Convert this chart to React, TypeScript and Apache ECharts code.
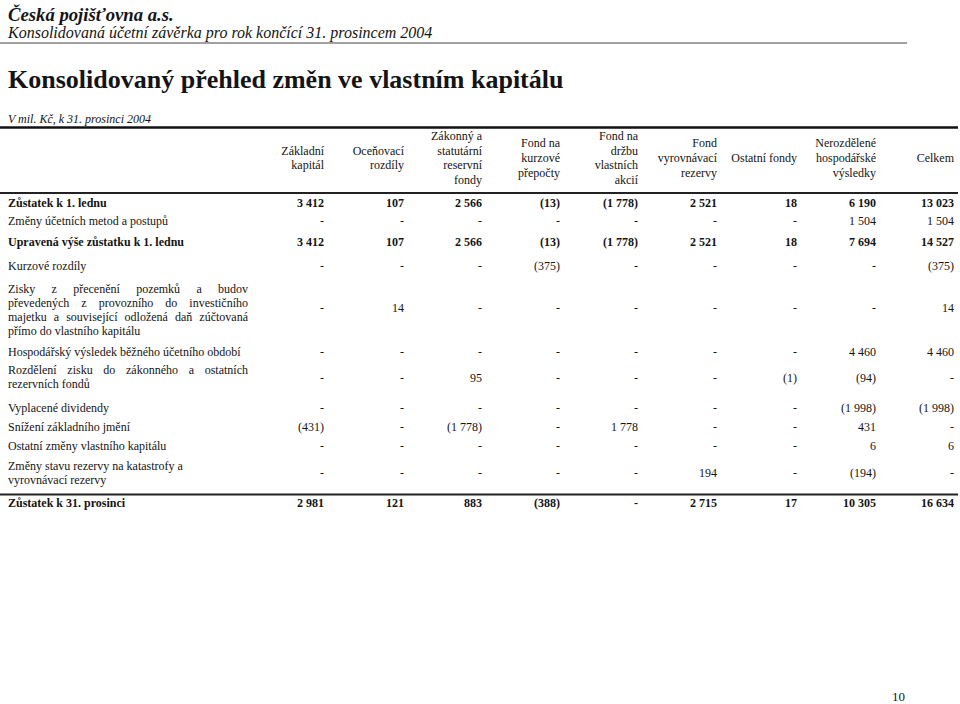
import React, { useEffect, useRef } from "react";
import * as echarts from "echarts";

// ---------- texts ----------
const companyName = "Česká pojišťovna a.s.";
const reportSubtitle = "Konsolidovaná účetní závěrka pro rok končící 31. prosincem 2004";
const tableTitle = "Konsolidovaný přehled změn ve vlastním kapitálu";
const unitNote = "V mil. Kč, k 31. prosinci 2004";
const pageNumber = "10";

// ---------- column headers ----------
const columnHeaders: string[][] = [
  ["Základní", "kapitál"],
  ["Oceňovací", "rozdíly"],
  ["Zákonný a", "statutární", "reservní", "fondy"],
  ["Fond na", "kurzové", "přepočty"],
  ["Fond na", "držbu", "vlastních", "akcií"],
  ["Fond", "vyrovnávací", "rezervy"],
  ["Ostatní fondy"],
  ["Nerozdělené", "hospodářské", "výsledky"],
  ["Celkem"],
];

// ---------- row labels ----------
const rowLabels: string[][] = [
  ["Zůstatek k 1. lednu"],
  ["Změny účetních metod a postupů"],
  ["Upravená výše zůstatku k 1. lednu"],
  ["Kurzové rozdíly"],
  [
    "Zisky z přecenění pozemků a budov",
    "převedených z provozního do investičního",
    "majetku a související odložená daň zúčtovaná",
    "přímo do vlastního kapitálu",
  ],
  ["Hospodářský výsledek běžného účetního období"],
  ["Rozdělení zisku do zákonného a ostatních", "rezervních fondů"],
  ["Vyplacené dividendy"],
  ["Snížení základního jmění"],
  ["Ostatní změny vlastního kapitálu"],
  ["Změny stavu rezervy na katastrofy a", "vyrovnávací rezervy"],
  ["Zůstatek k 31. prosinci"],
];
const boldRows = [true, false, true, false, false, false, false, false, false, false, false, true];
const justifiedRows = [false, false, false, false, true, false, true, false, false, false, false, false];

// ---------- values (mil. Kč), null = "-" ----------
const zustatek1Leden = [3412, 107, 2566, -13, -1778, 2521, 18, 6190, 13023];
const zmenyMetod = [null, null, null, null, null, null, null, 1504, 1504];
const upravenaVyse = [3412, 107, 2566, -13, -1778, 2521, 18, 7694, 14527];
const kurzoveRozdily = [null, null, null, -375, null, null, null, null, -375];
const ziskyPreceneni = [null, 14, null, null, null, null, null, null, 14];
const hospVysledek = [null, null, null, null, null, null, null, 4460, 4460];
const rozdeleniZisku = [null, null, 95, null, null, null, -1, -94, null];
const vyplaceneDividendy = [null, null, null, null, null, null, null, -1998, -1998];
const snizeniJmeni = [-431, null, -1778, null, 1778, null, null, 431, null];
const ostatniZmeny = [null, null, null, null, null, null, null, 6, 6];
const zmenyRezervy = [null, null, null, null, null, 194, null, -194, null];
const zustatek31Prosinec = [2981, 121, 883, -388, null, 2715, 17, 10305, 16634];

const rowValues: (number | null)[][] = [
  zustatek1Leden, zmenyMetod, upravenaVyse, kurzoveRozdily, ziskyPreceneni, hospVysledek,
  rozdeleniZisku, vyplaceneDividendy, snizeniJmeni, ostatniZmeny, zmenyRezervy, zustatek31Prosinec,
];

// ---------- layout ----------
const FONT = '"Liberation Serif", "Times New Roman", serif';
const INK = "#141414";
const COL_RIGHT = [324, 404, 482, 560, 638, 717, 797, 876, 954];
const ROW_Y = [203, 221, 242, 266, 308, 352, 378, 408, 427, 446, 473, 503];
const LABEL_Y = [203, 221, 242, 266, 289, 352, 370, 408, 427, 446, 466, 503];
const LABEL_LINE_H = 14;
const LABEL_LEFT = 8;
const LABEL_RIGHT = 248;
const BODY_SIZE = 12;
const HEAD_SIZE = 12;
const HEAD_LINE_H = 14.8;
const HEAD_CENTER_Y = 158;

function fmt(v: number | null): string {
  if (v === null) return "-";
  const a = Math.abs(v).toString().replace(/\B(?=(\d{3})+(?!\d))/g, " ");
  return v < 0 ? `(${a})` : a;
}

function txt(text: string, x: number, y: number, o: any = {}) {
  return {
    type: "text",
    x,
    y,
    silent: true,
    scaleX: o.scaleX ?? 1,
    style: {
      text,
      fill: o.fill ?? INK,
      fontFamily: FONT,
      fontSize: o.size ?? BODY_SIZE,
      fontWeight: o.weight ?? "normal",
      fontStyle: o.style ?? "normal",
      textAlign: o.align ?? "left",
      textVerticalAlign: "middle",
    },
  };
}

function buildElements() {
  const els: any[] = [];
  const canvas = document.createElement("canvas");
  const ctx = canvas.getContext("2d")!;

  // page header
  els.push(txt(companyName, 8, 14, { size: 18.7, weight: "bold", style: "italic" }));
  els.push(txt(reportSubtitle, 8, 32, { size: 16, style: "italic" }));
  els.push({ type: "line", silent: true, shape: { x1: 0, y1: 43, x2: 907, y2: 43 }, style: { stroke: "#808080", lineWidth: 1.5 } });

  // title
  els.push(txt(tableTitle, 8, 79, { size: 26, weight: "bold" }));
  els.push(txt(unitNote, 8, 119, { size: 12, style: "italic" }));

  // table rules
  els.push({ type: "line", silent: true, shape: { x1: 0, y1: 127.5, x2: 958, y2: 127.5 }, style: { stroke: "#111", lineWidth: 2.5 } });
  els.push({ type: "line", silent: true, shape: { x1: 0, y1: 193, x2: 958, y2: 193 }, style: { stroke: "#222", lineWidth: 1.8 } });
  els.push({ type: "line", silent: true, shape: { x1: 0, y1: 494.5, x2: 958, y2: 494.5 }, style: { stroke: "#222", lineWidth: 1.8 } });

  // column headers
  columnHeaders.forEach((lines, c) => {
    const y0 = HEAD_CENTER_Y - ((lines.length - 1) * HEAD_LINE_H) / 2;
    lines.forEach((line, i) => {
      els.push(txt(line, COL_RIGHT[c], y0 + i * HEAD_LINE_H, { size: HEAD_SIZE, align: "right" }));
    });
  });

  // rows
  rowLabels.forEach((lines, r) => {
    const weight = boldRows[r] ? "bold" : "normal";
    ctx.font = `${weight} ${BODY_SIZE}px ${FONT}`;
    const spaceW = ctx.measureText(" ").width;
    lines.forEach((line, i) => {
      const y = LABEL_Y[r] + i * LABEL_LINE_H;
      const isLast = i === lines.length - 1;
      if (justifiedRows[r] && !isLast) {
        const words = line.split(" ");
        const widths = words.map((w) => ctx.measureText(w).width);
        const total = widths.reduce((a, b) => a + b, 0);
        const avail = LABEL_RIGHT - LABEL_LEFT;
        const natural = total + spaceW * (words.length - 1);
        const s = natural > avail ? avail / natural : 1;
        const gap = s < 1 ? spaceW * s : (avail - total) / (words.length - 1);
        let x = LABEL_LEFT;
        words.forEach((w, k) => {
          els.push(txt(w, x, y, { weight, scaleX: s }));
          x += widths[k] * s + gap;
        });
      } else {
        els.push(txt(line, LABEL_LEFT, y, { weight }));
      }
    });
    rowValues[r].forEach((v, c) => {
      els.push(txt(fmt(v), COL_RIGHT[c], ROW_Y[r], { weight, align: "right" }));
    });
  });

  // page number
  els.push(txt(pageNumber, 905, 696, { size: 13, align: "right" }));
  return els;
}

export default function App() {
  const ref = useRef<HTMLDivElement>(null);
  useEffect(() => {
    if (!ref.current) return;
    const chart = echarts.init(ref.current, null, { renderer: "svg" });
    chart.setOption({
      animation: false,
      backgroundColor: "#ffffff",
      graphic: { elements: buildElements() },
    });
    return () => chart.dispose();
  }, []);
  return (
    <div
      ref={ref}
      style={{ position: "fixed", left: 0, top: 0, width: 960, height: 704, background: "#fff" }}
    />
  );
}
